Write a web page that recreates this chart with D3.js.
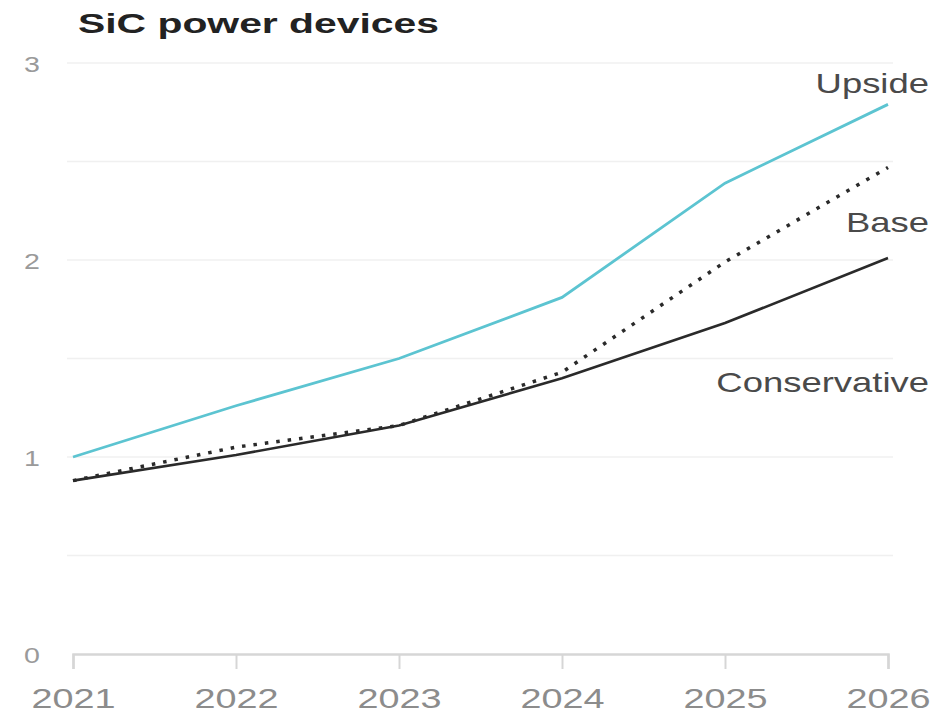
<!DOCTYPE html>
<html>
<head>
<meta charset="utf-8">
<script src="https://cdn.jsdelivr.net/npm/d3@7"></script>
<style>
  html, body { margin: 0; padding: 0; background: #fff; }
  svg { display: block; font-family: "Liberation Sans", Arial, Helvetica, sans-serif; }
</style>
</head>
<body>
<svg id="chart" width="951" height="713"></svg>
<script>
// Scenario outlook for SiC power devices
const years = [2021, 2022, 2023, 2024, 2025, 2026];
const upside = [1.00, 1.26, 1.50, 1.81, 2.39, 2.79];
const base = [0.88, 1.05, 1.16, 1.43, 1.99, 2.47];
const conservative = [0.88, 1.01, 1.16, 1.40, 1.68, 2.01];
const yTickLabels = [0, 1, 2, 3];
const gridValues = [0.5, 1, 1.5, 2, 2.5, 3];

const svg = d3.select("#chart");
const W = 951;
const x = d3.scalePoint().domain(years).range([73, 888]);
const y = d3.scaleLinear().domain([0, 3]).range([654, 63]);

// Wide lettering: glyphs are stretched horizontally around their anchor point
const WIDE = 1.35;
function wideText(g, px, py, stretch) {
  return g.append("text")
    .attr("transform", `translate(${px},${py}) scale(${stretch},1)`);
}

// Title
wideText(svg, 78, 33, 1.46)
  .attr("font-size", 28).attr("font-weight", "bold").attr("fill", "#222")
  .text("SiC power devices");

// Horizontal gridlines
svg.append("g").selectAll("line").data(gridValues).join("line")
  .attr("x1", 67).attr("x2", 893)
  .attr("y1", d => y(d)).attr("y2", d => y(d))
  .attr("stroke", "#f0f0f0").attr("stroke-width", 1.5);

// Y labels
const gy = svg.append("g");
yTickLabels.forEach(v => {
  wideText(gy, 32, y(v) + 9, 1.3)
    .attr("text-anchor", "middle").attr("font-size", 22).attr("fill", "#9a9a9a")
    .text(v);
});

// X axis
const xAxis = d3.axisBottom(x).tickSize(15).tickFormat("");
const gx = svg.append("g").attr("transform", `translate(0,${y(0)})`).call(xAxis);
gx.select(".domain").attr("stroke", "#d6d6d6").attr("stroke-width", 2.5);
gx.selectAll(".tick line").attr("stroke", "#d6d6d6").attr("stroke-width", 2);
gx.selectAll(".tick").each(function (d) {
  wideText(d3.select(this), 0, 54, WIDE)
    .attr("text-anchor", "middle").attr("font-size", 28).attr("fill", "#8c8c8c")
    .text(d);
});

const line = d3.line().x((d, i) => x(years[i])).y(d => y(d));

// Series
svg.append("path").datum(conservative).attr("d", line)
  .attr("fill", "none").attr("stroke", "#2a2a2a").attr("stroke-width", 2.6);
svg.append("path").datum(base).attr("d", line)
  .attr("fill", "none").attr("stroke", "#2a2a2a").attr("stroke-width", 3.5)
  .attr("stroke-dasharray", "3.5,8");
svg.append("path").datum(upside).attr("d", line)
  .attr("fill", "none").attr("stroke", "#5cc4d1").attr("stroke-width", 2.8);

// Series labels
const labels = [
  { text: "Upside", v: 2.85 },
  { text: "Base", v: 2.14 },
  { text: "Conservative", v: 1.33 }
];
const gl = svg.append("g");
labels.forEach(d => {
  wideText(gl, 929, y(d.v), WIDE)
    .attr("text-anchor", "end").attr("font-size", 27).attr("fill", "#4a4a4a")
    .text(d.text);
});
</script>
</body>
</html>
